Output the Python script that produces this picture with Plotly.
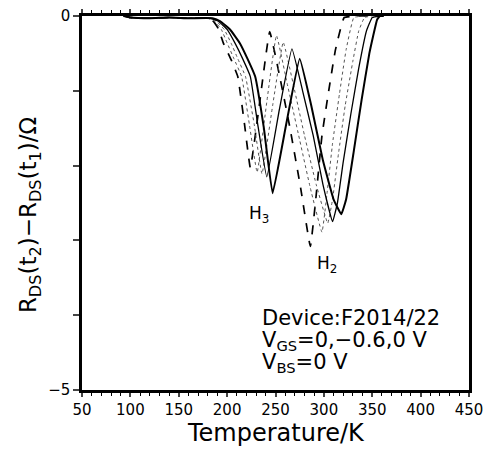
import plotly.graph_objects as go

# Temperature (K) and R_DS(t2)-R_DS(t1) (Ohm) for five measurement curves
T_c1 = [93, 100, 120, 140, 160, 178, 185, 191, 196, 204, 211, 218, 224, 234, 244, 255, 265, 276, 286, 292, 298, 305, 312, 321, 335, 345]
V_c1 = [0, -0.02, -0.03, -0.02, -0.03, -0.03, -0.06, -0.17, -0.36, -0.58, -0.81, -1.45, -2.03, -1.12, -0.21, -0.85, -1.5, -2.3, -3.08, -2.4, -1.6, -1.0, -0.45, -0.02, 0, 0]

T_c2 = [93, 100, 120, 140, 160, 180, 187, 194, 200, 207, 215, 223, 231, 241, 251, 262, 274, 286, 298, 303, 309, 316, 323, 331, 345]
V_c2 = [0, -0.02, -0.03, -0.02, -0.03, -0.03, -0.07, -0.18, -0.36, -0.57, -0.81, -1.45, -2.09, -1.15, -0.26, -0.9, -1.6, -2.3, -2.89, -2.4, -1.7, -1.05, -0.45, -0.02, 0]

T_c3 = [93, 100, 120, 140, 160, 182, 189, 197, 204, 211, 219, 228, 236, 247, 258, 269, 280, 292, 304, 309, 315, 322, 330, 336, 342, 350]
V_c3 = [0, -0.02, -0.03, -0.02, -0.03, -0.03, -0.07, -0.18, -0.36, -0.57, -0.81, -1.45, -2.11, -1.2, -0.35, -0.95, -1.6, -2.25, -2.77, -2.45, -1.85, -1.2, -0.6, -0.2, -0.02, 0]

T_c4 = [93, 100, 120, 140, 160, 183, 191, 200, 208, 216, 224, 232, 241, 254, 267, 278, 289, 299, 309, 314, 320, 328, 336, 344, 350, 358]
V_c4 = [0, -0.02, -0.03, -0.02, -0.03, -0.03, -0.07, -0.18, -0.36, -0.57, -0.81, -1.48, -2.15, -1.25, -0.44, -1.0, -1.6, -2.25, -2.75, -2.5, -1.95, -1.3, -0.7, -0.2, -0.02, 0]

T_c5 = [93, 100, 120, 140, 160, 185, 193, 203, 213, 221, 229, 238, 247, 261, 275, 287, 299, 310, 318, 323, 331, 339, 347, 355, 358, 362]
V_c5 = [0, -0.02, -0.03, -0.02, -0.03, -0.03, -0.07, -0.18, -0.36, -0.57, -0.81, -1.5, -2.37, -1.45, -0.57, -1.2, -1.93, -2.45, -2.65, -2.45, -1.8, -1.12, -0.5, -0.05, 0, 0]

x_ticks = [50, 100, 150, 200, 250, 300, 350, 400, 450]
y_ticks = [0, -1, -2, -3, -4, -5]
y_tick_text = ["0", "", "", "", "", "−5"]

curves = [
    (T_c1, V_c1, dict(color="black", width=1.7, dash="dash")),
    (T_c2, V_c2, dict(color="#555", width=1.0, dash="dot")),
    (T_c3, V_c3, dict(color="#555", width=1.0, dash="dot")),
    (T_c4, V_c4, dict(color="black", width=1.3, dash="solid")),
    (T_c5, V_c5, dict(color="black", width=2.0, dash="solid")),
]

fig = go.Figure()
for T, V, ln in curves:
    fig.add_trace(go.Scatter(x=T, y=V, mode="lines", line=dict(shape="spline", smoothing=0.3, **ln),
                             showlegend=False, hoverinfo="skip"))

FONT = "DejaVu Sans"
fig.update_layout(
    width=487, height=449,
    margin=dict(l=82, r=18, t=16, b=59),
    paper_bgcolor="white", plot_bgcolor="white",
    font=dict(family=FONT, color="black"),
    xaxis=dict(
        range=[50, 450], tickvals=x_ticks, ticks="outside", ticklen=4, tickwidth=1.5,
        showline=True, linewidth=2.5, linecolor="black", mirror="ticks",
        showgrid=False, zeroline=False, automargin=False,
        tickfont=dict(size=15, family=FONT),
        minor=dict(dtick=10, tick0=50, ticks="outside", ticklen=3, tickwidth=1, tickcolor="black"),
    ),
    yaxis=dict(
        range=[-5, 0], tickvals=y_ticks, ticktext=y_tick_text, ticks="outside", ticklen=6, tickwidth=1.5,
        showline=True, linewidth=2.5, linecolor="black", mirror=True,
        showgrid=False, zeroline=False, automargin=False,
        tickfont=dict(size=15, family=FONT),
    ),
)

# axis titles placed as annotations at the reference positions
fig.add_annotation(xref="paper", yref="paper", x=0.5, y=-0.114,
                   text="Temperature/K", showarrow=False, xanchor="center", yanchor="middle",
                   font=dict(size=24, family=FONT, color="black"))
fig.add_annotation(xref="paper", yref="paper", x=-0.134, y=0.468,
                   text="R<sub>DS</sub>(t<sub>2</sub>)−R<sub>DS</sub>(t<sub>1</sub>)/Ω",
                   textangle=-90, showarrow=False, xanchor="center", yanchor="middle",
                   font=dict(size=23, family=FONT, color="black"))

ann_font = dict(size=21, family=FONT, color="black")
fig.add_annotation(x=234, y=-4.04, text="Device:F2014/22", showarrow=False, xanchor="left", yanchor="middle", font=ann_font)
fig.add_annotation(x=234, y=-4.34, text="V<sub>GS</sub>=0,−0.6,0 V", showarrow=False, xanchor="left", yanchor="middle", font=ann_font)
fig.add_annotation(x=234, y=-4.64, text="V<sub>BS</sub>=0 V", showarrow=False, xanchor="left", yanchor="middle", font=ann_font)
lab_font = dict(size=17, family=FONT, color="black")
fig.add_annotation(x=233, y=-2.65, text="H<sub>3</sub>", showarrow=False, font=lab_font)
fig.add_annotation(x=303, y=-3.32, text="H<sub>2</sub>", showarrow=False, font=lab_font)

fig.write_html("out.html")
